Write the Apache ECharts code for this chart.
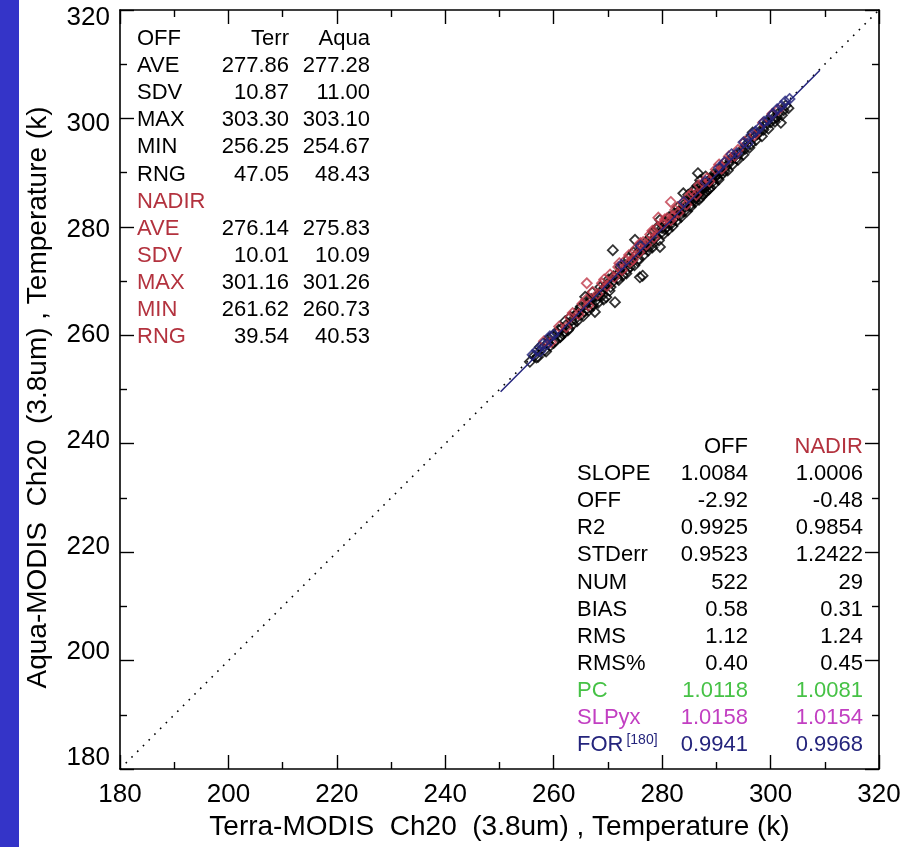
<!DOCTYPE html>
<html>
<head>
<meta charset="utf-8">
<script src="https://cdn.jsdelivr.net/npm/echarts@6/dist/echarts.min.js"></script>
<style>
  html, body { margin: 0; padding: 0; background: #fff; }
  #chart { width: 904px; height: 847px; }
</style>
</head>
<body>
<div id="chart"></div>
<script>
// Terra vs Aqua MODIS Ch20 brightness temperature comparison

var AXIS_MIN = 180;
var AXIS_MAX = 320;
var AXIS_STEP = 20;

var X_TITLE = 'Terra-MODIS  Ch20  (3.8um) , Temperature (k)';
var Y_TITLE = 'Aqua-MODIS  Ch20  (3.8um) , Temperature (k)';

// OFF-nadir matchups (black diamonds), [Terra, Aqua]
var offPoints = [
  [255.6, 255.1], [256.4, 256.2], [257.1, 256.0], [257.8, 257.5], [258.3, 257.2],
  [258.9, 258.6], [259.4, 258.1], [259.8, 259.9], [260.3, 259.0], [260.7, 260.4],
  [261.2, 259.7], [261.5, 261.3], [261.9, 260.5], [262.4, 262.0], [262.8, 261.2],
  [263.1, 263.4], [263.6, 262.1], [264.0, 263.8], [264.3, 262.6], [264.8, 264.9],
  [265.2, 263.9], [265.8, 267.1], [265.6, 264.4], [266.1, 265.8], [266.5, 264.6],
  [266.9, 266.7], [267.3, 265.5], [267.6, 264.3], [267.9, 267.2], [268.2, 266.0],
  [268.6, 268.9], [269.0, 267.4], [269.4, 268.8], [269.7, 267.0], [270.1, 270.3],
  [270.5, 268.9], [270.9, 275.7], [270.8, 269.8], [271.3, 266.1], [271.6, 271.1],
  [272.0, 270.2], [272.3, 272.6], [272.7, 271.0], [273.1, 272.4], [273.4, 271.4],
  [273.8, 274.2], [274.1, 272.6], [274.5, 273.9], [275.0, 277.6], [274.9, 272.9],
  [275.3, 275.0], [275.9, 270.7], [276.4, 271.0], [275.7, 274.1], [276.1, 276.3],
  [276.6, 274.8], [277.0, 276.6], [277.4, 275.6], [277.8, 278.1], [278.2, 276.2],
  [278.6, 277.9], [279.0, 279.6], [279.6, 281.3], [279.6, 276.3], [279.4, 277.5],
  [279.9, 279.0], [280.3, 278.7], [280.7, 280.9], [281.1, 279.4], [281.5, 281.0],
  [281.9, 280.1], [282.3, 282.5], [282.7, 281.1], [283.1, 282.9], [283.5, 281.8],
  [283.9, 286.2], [284.2, 283.6], [284.6, 282.9], [285.0, 284.8], [285.3, 283.7],
  [285.7, 285.2], [286.0, 284.5], [286.6, 289.9], [286.4, 286.1], [286.8, 285.0],
  [287.1, 286.8], [287.5, 285.9], [287.8, 287.3], [288.2, 286.6], [288.5, 288.1],
  [288.9, 287.2], [289.2, 289.0], [289.6, 287.9], [290.0, 289.5], [290.4, 288.7],
  [290.8, 290.6], [291.2, 289.8], [291.7, 291.0], [292.1, 290.4], [292.6, 292.3],
  [293.0, 291.5], [293.5, 293.1], [294.0, 292.4], [294.5, 294.0], [295.0, 293.3],
  [295.6, 295.2], [296.1, 294.6], [296.7, 297.4], [297.3, 296.0], [297.9, 297.5],
  [298.4, 296.7], [299.0, 298.6], [299.6, 298.1], [300.2, 300.5], [300.8, 299.4],
  [301.5, 301.0], [301.9, 299.2], [302.1, 300.6], [302.8, 302.4], [303.3, 301.9],
  [285.5, 285.6], [286.2, 285.3], [286.9, 286.4], [287.3, 287.6], [287.9, 286.2],
  [288.4, 287.7], [288.8, 288.5], [289.4, 288.4], [286.5, 287.6], [287.0, 288.6],
  [285.8, 286.8], [288.0, 289.3], [289.8, 289.2], [284.8, 285.9], [261.2, 259.7],
  [256.8, 255.9], [257.4, 257.8], [258.6, 257.0], [259.1, 259.4], [260.0, 258.6],
  [260.9, 261.0], [261.7, 260.2], [262.1, 262.6], [262.6, 260.9], [263.3, 262.7],
  [263.9, 262.9], [264.5, 264.2], [265.0, 265.3], [265.5, 263.6], [266.3, 266.5],
  [266.8, 265.2], [267.1, 267.9], [267.8, 266.4], [268.4, 267.3], [268.9, 268.2],
  [269.2, 266.6], [269.9, 269.5], [270.3, 268.2], [271.0, 270.9], [271.8, 270.5],
  [272.2, 271.6], [272.9, 272.9], [273.6, 272.1], [274.3, 273.4], [274.7, 275.3],
  [275.5, 273.7], [276.3, 275.7], [276.8, 276.0], [277.2, 277.4], [277.6, 276.3],
  [278.0, 277.1], [278.4, 279.1], [278.9, 278.2], [279.2, 280.0], [280.0, 279.8],
  [280.5, 279.6], [280.9, 280.0], [281.3, 281.8], [281.7, 280.6], [282.1, 281.4],
  [282.5, 281.9], [282.9, 283.6], [283.3, 282.2], [283.7, 283.3], [284.0, 282.8],
  [284.4, 284.5], [285.1, 283.9], [285.9, 284.9], [286.3, 286.9], [286.7, 286.0],
  [287.2, 285.5], [287.7, 288.0], [288.1, 287.4], [288.6, 286.9], [289.0, 288.9],
  [289.5, 289.7], [290.2, 288.9], [290.6, 289.9], [291.0, 291.2], [291.5, 290.3],
  [292.3, 291.7], [292.9, 292.8], [293.7, 292.6], [294.3, 293.5], [295.3, 294.4],
  [295.9, 296.2], [296.4, 295.3], [297.0, 296.6], [297.6, 297.1], [298.7, 297.9],
  [299.3, 299.2], [300.0, 299.3], [300.5, 300.0], [301.2, 300.2], [302.4, 301.5]
];

// NADIR matchups (red diamonds)
var nadirPoints = [
  [258.2, 258.9], [259.5, 258.7], [261.0, 261.6], [262.3, 261.5], [263.5, 264.1],
  [264.6, 263.9], [265.3, 265.8], [266.4, 265.5], [267.2, 268.0], [268.1, 267.6],
  [268.9, 269.6], [269.8, 269.1], [270.4, 271.2], [271.2, 270.7], [271.9, 272.6],
  [272.6, 272.0], [273.3, 273.9], [273.9, 274.8], [274.6, 274.0], [275.2, 276.0],
  [275.8, 275.3], [276.5, 277.2], [277.1, 276.7], [277.8, 278.6], [278.5, 278.0],
  [279.1, 279.8], [279.3, 281.7], [280.2, 280.5], [280.9, 281.6], [281.6, 281.2],
  [282.4, 283.1], [283.0, 282.6], [283.8, 284.4], [284.5, 284.1], [285.4, 286.1],
  [286.3, 285.9], [287.6, 288.1], [288.7, 288.4], [289.9, 290.6], [291.0, 290.7],
  [292.3, 293.0], [293.4, 293.1], [294.0, 294.2], [295.2, 295.7], [297.0, 296.9],
  [298.6, 299.2], [300.3, 300.8], [301.4, 301.6], [263.0, 263.3], [266.0, 266.6],
  [269.3, 270.3], [272.1, 273.3], [274.1, 273.5], [276.0, 277.0], [278.2, 279.3],
  [280.5, 281.4], [282.0, 282.0], [284.9, 285.6], [286.8, 287.7], [288.3, 289.0],
  [290.5, 291.5], [291.8, 292.1], [266.1, 269.6], [281.6, 284.6]
];

// points drawn in the FOR colour (navy diamonds)
var forPoints = [
  [256.1, 256.4], [256.9, 257.2], [257.5, 257.0], [258.0, 258.4], [258.7, 258.3],
  [259.3, 259.8], [260.0, 260.1], [272.5, 273.0], [276.0, 276.5], [284.0, 284.6],
  [288.0, 288.4], [290.5, 290.9], [291.5, 291.9], [292.8, 293.4], [293.8, 293.6],
  [295.0, 295.6], [295.8, 295.4], [296.5, 297.0], [297.2, 297.6], [298.0, 298.3],
  [298.8, 299.4], [299.5, 299.7], [300.5, 300.9], [301.2, 301.7], [302.0, 302.3],
  [302.7, 303.1], [303.5, 303.6]
];

var oneToOne = [[180, 180], [320, 320]];
var fitLine = [[250.2, 249.6], [309.1, 308.9]];

// statistics box, upper left
var leftLabels = ['OFF', 'AVE', 'SDV', 'MAX', 'MIN', 'RNG', 'NADIR', 'AVE', 'SDV', 'MAX', 'MIN', 'RNG'];
var leftTerr = ['Terr', '277.86', '10.87', '303.30', '256.25', '47.05', '', '276.14', '10.01', '301.16', '261.62', '39.54'];
var leftAqua = ['Aqua', '277.28', '11.00', '303.10', '254.67', '48.43', '', '275.83', '10.09', '301.26', '260.73', '40.53'];

// regression box, lower right
var rightLabels = ['', 'SLOPE', 'OFF', 'R2', 'STDerr', 'NUM', 'BIAS', 'RMS', 'RMS%', 'PC', 'SLPyx', 'FOR{s|[180]}'];
var rightOff = ['OFF', '1.0084', '-2.92', '0.9925', '0.9523', '522', '0.58', '1.12', '0.40', '1.0118', '1.0158', '0.9941'];
var rightNadir = ['NADIR', '1.0006', '-0.48', '0.9854', '1.2422', '29', '0.31', '1.24', '0.45', '1.0081', '1.0154', '0.9968'];

var FONT = '"Liberation Sans", Arial, Helvetica, sans-serif';
var RED = '#b3323e';
var GREEN = '#46c246';
var MAGENTA = '#c23fc2';
var NAVY = '#24247c';

var chart = echarts.init(document.getElementById('chart'), null, { renderer: 'canvas' });

function axisBase(gridIndex) {
  return {
    type: 'value',
    gridIndex: gridIndex,
    min: AXIS_MIN,
    max: AXIS_MAX,
    interval: AXIS_STEP,
    axisLine: { show: true, onZero: false, lineStyle: { color: '#000', width: 1.6 } },
    axisTick: { show: true, inside: true, length: 14, lineStyle: { color: '#000', width: 1.4 } },
    minorTick: { show: true, splitNumber: 2, length: 7, lineStyle: { color: '#000', width: 1.4 } },
    splitLine: { show: false },
    axisLabel: { show: false, color: '#000', fontSize: 26, fontFamily: FONT }
  };
}

var xBottom = axisBase(0);
xBottom.position = 'bottom';
xBottom.axisLabel.show = true;
xBottom.axisLabel.margin = 13;
xBottom.name = X_TITLE;
xBottom.nameLocation = 'middle';
xBottom.nameGap = 42;
xBottom.nameTextStyle = { color: '#000', fontSize: 28, fontFamily: FONT };
var xTop = axisBase(0);
xTop.position = 'top';

var yLeft = axisBase(0);
yLeft.position = 'left';
yLeft.name = Y_TITLE;
yLeft.nameLocation = 'middle';
yLeft.nameGap = 68;
yLeft.nameTextStyle = { color: '#000', fontSize: 28, fontFamily: FONT, padding: [0, 16, 0, 0] };
var yRight = axisBase(0);
yRight.position = 'right';

// the original plot prints its y tick labels on a slightly shorter span than the axis
var xLabelOnly = axisBase(1);
xLabelOnly.show = false;
var yLabelOnly = axisBase(1);
yLabelOnly.position = 'left';
yLabelOnly.axisLine = { show: false };
yLabelOnly.axisTick = { show: false };
yLabelOnly.minorTick = { show: false };
yLabelOnly.axisLabel.show = true;
yLabelOnly.axisLabel.margin = 10;

function diamonds(name, data, color) {
  return {
    name: name,
    type: 'scatter',
    data: data,
    symbol: 'diamond',
    symbolSize: 10,
    itemStyle: { color: 'rgba(0,0,0,0)', borderColor: color, borderWidth: 1.8 },
    z: 3
  };
}

// table text as graphic elements
var graphics = [{
  type: 'rect',
  shape: { x: 0, y: 0, width: 19, height: 847 },
  style: { fill: '#3434c8' },
  silent: true
}];

function addText(x, y, text, align, color) {
  graphics.push({
    type: 'text',
    x: x,
    y: y,
    style: {
      text: text,
      fill: color,
      font: '22px ' + FONT,
      textAlign: align,
      textVerticalAlign: 'middle',
      rich: { s: { fontSize: 14, fontFamily: FONT, fill: color, padding: [0, 0, 10, 3] } }
    },
    z: 10
  });
}

var ROW = 27.1;
for (var i = 0; i < leftLabels.length; ++i) {
  var ly = 39 + i * ROW;
  addText(137, ly, leftLabels[i], 'left', i >= 6 ? RED : '#000');
  addText(289, ly, leftTerr[i], 'right', '#000');
  addText(370, ly, leftAqua[i], 'right', '#000');
}

for (var j = 0; j < rightLabels.length; ++j) {
  var ry = 447 + j * ROW;
  var c = '#000';
  if (j === 9) c = GREEN;
  if (j === 10) c = MAGENTA;
  if (j === 11) c = NAVY;
  addText(577, ry, rightLabels[j], 'left', c);
  addText(748, ry, rightOff[j], 'right', c);
  addText(863, ry, rightNadir[j], 'right', j === 0 ? RED : c);
}

chart.setOption({
  animation: false,
  backgroundColor: '#fff',
  grid: [
    { left: 120, top: 10, width: 759, height: 759, containLabel: false },
    { left: 120, top: 18, width: 759, height: 740, containLabel: false }
  ],
  xAxis: [xBottom, xTop, xLabelOnly],
  yAxis: [yLeft, yRight, yLabelOnly],
  graphic: graphics,
  series: [
    {
      name: '1:1',
      type: 'line',
      data: oneToOne,
      symbol: 'none',
      lineStyle: { color: '#000', width: 1.6, type: [1.6, 6.5] },
      z: 2
    },
    diamonds('OFF', offPoints, '#000'),
    diamonds('NADIR', nadirPoints, '#c0394a'),
    diamonds('FOR', forPoints, NAVY),
    {
      name: 'fit',
      type: 'line',
      data: fitLine,
      symbol: 'none',
      lineStyle: { color: NAVY, width: 1.5 },
      z: 4
    }
  ]
});
</script>
</body>
</html>
